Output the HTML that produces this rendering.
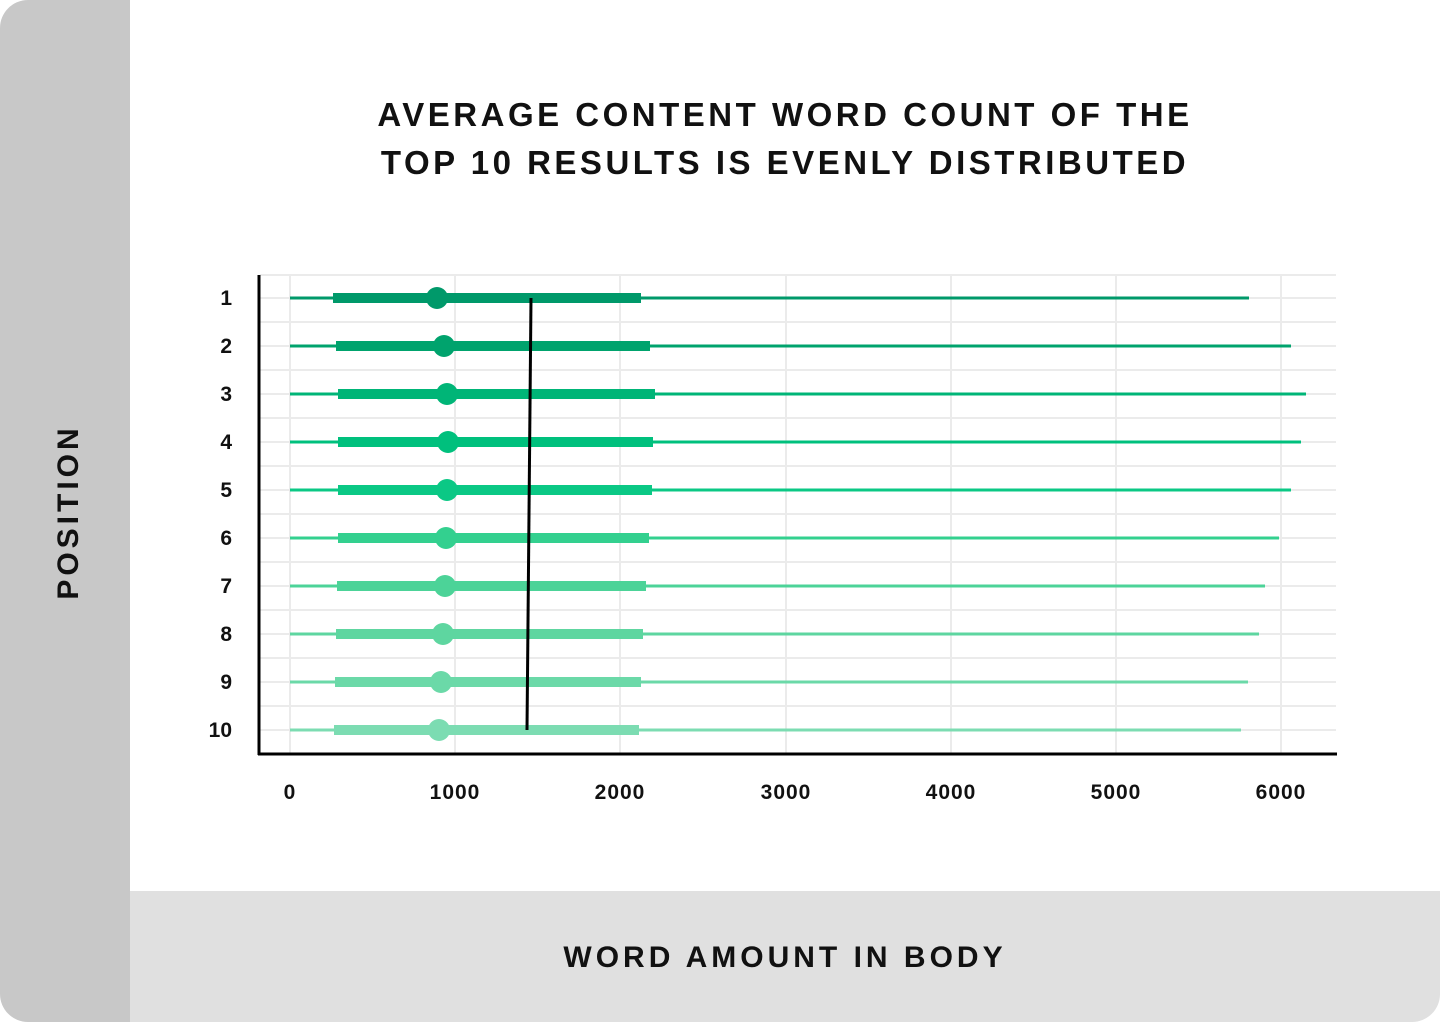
<!DOCTYPE html>
<html><head><meta charset="utf-8"><style>
body{margin:0;width:1440px;height:1022px;background:#fff;overflow:hidden;font-family:"Liberation Sans",sans-serif}
</style></head><body>
<svg width="1440" height="1022" xmlns="http://www.w3.org/2000/svg" style="display:block">
<defs><clipPath id="c"><rect x="0" y="0" width="1440" height="1022" rx="28"/></clipPath></defs>
<g clip-path="url(#c)">
<rect x="0" y="0" width="1440" height="1022" fill="#fff"/>
<rect x="0" y="0" width="130" height="1022" fill="#c8c8c8"/>
<rect x="130" y="891" width="1310" height="131" fill="#e0e0e0"/>
</g>
<g font-family="Liberation Sans, sans-serif" font-weight="bold" fill="#111" text-anchor="middle">
<text x="785" y="126" font-size="33" letter-spacing="3.5">AVERAGE CONTENT WORD COUNT OF THE</text>
<text x="785" y="174" font-size="33" letter-spacing="3.5">TOP 10 RESULTS IS EVENLY DISTRIBUTED</text>
<text x="785" y="967" font-size="30" letter-spacing="4">WORD AMOUNT IN BODY</text>
<text transform="translate(78,512) rotate(-90)" font-size="30" letter-spacing="4">POSITION</text>
</g>
<g stroke="#ebebeb" stroke-width="2">
<line x1="260" y1="275" x2="1336" y2="275"/>
<line x1="260" y1="322" x2="1336" y2="322"/><line x1="260" y1="370" x2="1336" y2="370"/>
<line x1="260" y1="418" x2="1336" y2="418"/><line x1="260" y1="466" x2="1336" y2="466"/>
<line x1="260" y1="514" x2="1336" y2="514"/><line x1="260" y1="562" x2="1336" y2="562"/>
<line x1="260" y1="610" x2="1336" y2="610"/><line x1="260" y1="658" x2="1336" y2="658"/>
<line x1="260" y1="706" x2="1336" y2="706"/>
<line x1="260" y1="298" x2="1336" y2="298"/><line x1="260" y1="346" x2="1336" y2="346"/>
<line x1="260" y1="394" x2="1336" y2="394"/><line x1="260" y1="442" x2="1336" y2="442"/>
<line x1="260" y1="490" x2="1336" y2="490"/><line x1="260" y1="538" x2="1336" y2="538"/>
<line x1="260" y1="586" x2="1336" y2="586"/><line x1="260" y1="634" x2="1336" y2="634"/>
<line x1="260" y1="682" x2="1336" y2="682"/><line x1="260" y1="730" x2="1336" y2="730"/>
<line x1="290" y1="275" x2="290" y2="754"/><line x1="455" y1="275" x2="455" y2="754"/>
<line x1="620" y1="275" x2="620" y2="754"/><line x1="786" y1="275" x2="786" y2="754"/>
<line x1="951" y1="275" x2="951" y2="754"/><line x1="1116" y1="275" x2="1116" y2="754"/>
<line x1="1281" y1="275" x2="1281" y2="754"/>
</g>
<line x1="259" y1="275" x2="259" y2="755" stroke="#000" stroke-width="3"/>
<line x1="258" y1="754" x2="1337" y2="754" stroke="#000" stroke-width="3"/>
<g font-family="Liberation Sans, sans-serif" font-weight="bold" font-size="21" fill="#111" text-anchor="middle" letter-spacing="1">
<text x="290" y="799">0</text><text x="455" y="799">1000</text><text x="620" y="799">2000</text>
<text x="786" y="799">3000</text><text x="951" y="799">4000</text><text x="1116" y="799">5000</text><text x="1281" y="799">6000</text>
</g>
<g font-family="Liberation Sans, sans-serif" font-weight="bold" font-size="21" fill="#111" text-anchor="end">
<text x="232" y="305">1</text><text x="232" y="353">2</text><text x="232" y="401">3</text><text x="232" y="449">4</text>
<text x="232" y="497">5</text><text x="232" y="545">6</text><text x="232" y="593">7</text><text x="232" y="641">8</text>
<text x="232" y="689">9</text><text x="232" y="737">10</text>
</g>
<g stroke-linecap="butt">
<g stroke="#00996a" fill="#00996a"><line x1="290" y1="298" x2="1249" y2="298" stroke-width="3"/><line x1="333" y1="298" x2="641" y2="298" stroke-width="10"/><circle cx="437" cy="298" r="11" stroke="none"/></g>
<g stroke="#00a36d" fill="#00a36d"><line x1="290" y1="346" x2="1291" y2="346" stroke-width="3"/><line x1="336" y1="346" x2="650" y2="346" stroke-width="10"/><circle cx="444" cy="346" r="11" stroke="none"/></g>
<g stroke="#00b577" fill="#00b577"><line x1="290" y1="394" x2="1306" y2="394" stroke-width="3"/><line x1="338" y1="394" x2="655" y2="394" stroke-width="10"/><circle cx="447" cy="394" r="11" stroke="none"/></g>
<g stroke="#00c07d" fill="#00c07d"><line x1="290" y1="442" x2="1301" y2="442" stroke-width="3"/><line x1="338" y1="442" x2="653" y2="442" stroke-width="10"/><circle cx="448" cy="442" r="11" stroke="none"/></g>
<g stroke="#0bc885" fill="#0bc885"><line x1="290" y1="490" x2="1291" y2="490" stroke-width="3"/><line x1="338" y1="490" x2="652" y2="490" stroke-width="10"/><circle cx="447" cy="490" r="11" stroke="none"/></g>
<g stroke="#33d08f" fill="#33d08f"><line x1="290" y1="538" x2="1279" y2="538" stroke-width="3"/><line x1="338" y1="538" x2="649" y2="538" stroke-width="10"/><circle cx="446" cy="538" r="11" stroke="none"/></g>
<g stroke="#4cd398" fill="#4cd398"><line x1="290" y1="586" x2="1265" y2="586" stroke-width="3"/><line x1="337" y1="586" x2="646" y2="586" stroke-width="10"/><circle cx="445" cy="586" r="11" stroke="none"/></g>
<g stroke="#5ed6a0" fill="#5ed6a0"><line x1="290" y1="634" x2="1259" y2="634" stroke-width="3"/><line x1="336" y1="634" x2="643" y2="634" stroke-width="10"/><circle cx="443" cy="634" r="11" stroke="none"/></g>
<g stroke="#6bd9a8" fill="#6bd9a8"><line x1="290" y1="682" x2="1248" y2="682" stroke-width="3"/><line x1="335" y1="682" x2="641" y2="682" stroke-width="10"/><circle cx="441" cy="682" r="11" stroke="none"/></g>
<g stroke="#7cdcb2" fill="#7cdcb2"><line x1="290" y1="730" x2="1241" y2="730" stroke-width="3"/><line x1="334" y1="730" x2="639" y2="730" stroke-width="10"/><circle cx="439" cy="730" r="11" stroke="none"/></g>
</g>
<line x1="531" y1="298" x2="527" y2="730" stroke="#000" stroke-width="3"/>
</svg>
</body></html>
